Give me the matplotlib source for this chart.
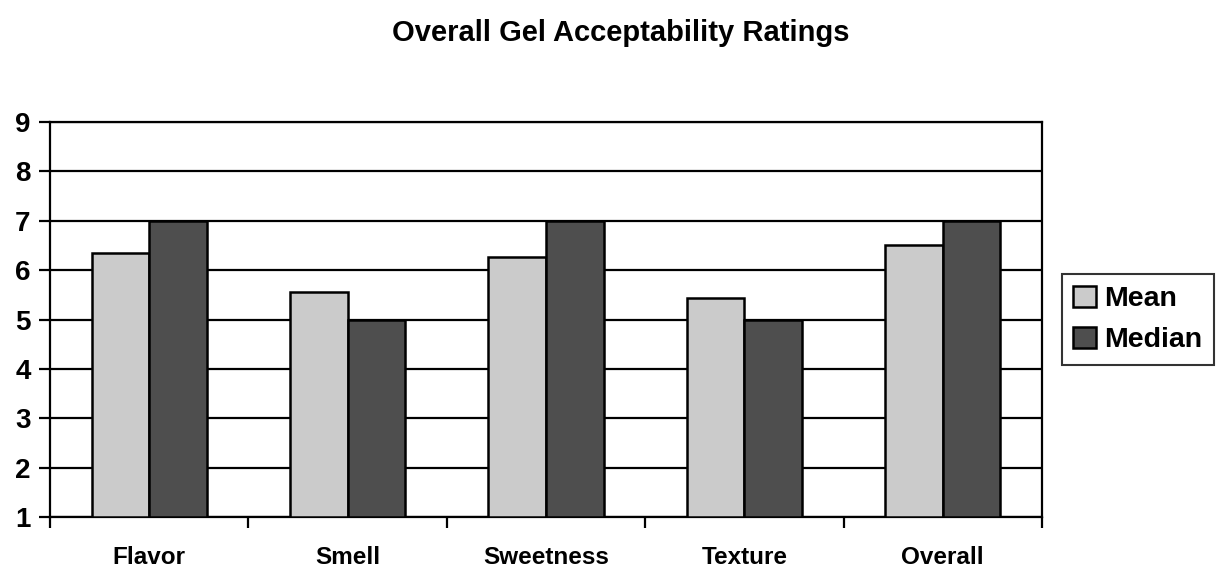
import matplotlib
matplotlib.use("Agg")
import matplotlib.pyplot as plt
import numpy as np

categories = ["Flavor", "Smell", "Sweetness", "Texture", "Overall"]
mean_vals = [6.35, 5.55, 6.26, 5.43, 6.51]
median_vals = [7, 5, 7, 5, 7]
series_names = ["Mean", "Median"]
yticks = [1, 2, 3, 4, 5, 6, 7, 8, 9]
title = "Overall Gel Acceptability Ratings"

plt.rcParams['font.family'] = ['Liberation Sans', 'DejaVu Sans']
plt.rcParams['font.weight'] = 'bold'

fig = plt.figure(figsize=(12.22, 5.76), dpi=100)
ax = fig.add_axes([0.0409, 0.1024, 0.8118, 0.6858])

x = np.arange(len(categories))
w = 0.29
b1 = ax.bar(x - w/2, np.array(mean_vals) - 1, w, bottom=1, color="#cbcbcb",
            edgecolor="black", linewidth=1.8, label=series_names[0], zorder=3)
b2 = ax.bar(x + w/2, np.array(median_vals) - 1, w, bottom=1, color="#4e4e4e",
            edgecolor="black", linewidth=1.8, label=series_names[1], zorder=3)

ax.set_xlim(-0.5, len(categories) - 0.5)
ax.set_ylim(1, 9)
ax.set_yticks(yticks)
ax.set_yticklabels([str(t) for t in yticks], fontsize=20, fontweight='bold')
ax.yaxis.grid(True, color='black', linewidth=1.6, zorder=0)
ax.set_axisbelow(True)

ax.set_xticks(np.arange(-0.5, len(categories), 1.0))
ax.set_xticklabels([])
ax.set_xticks(x, minor=True)
ax.set_xticklabels(categories, minor=True, fontsize=17.5, fontweight='bold')
ax.tick_params(axis='x', which='minor', length=0, pad=21)
ax.tick_params(axis='x', which='major', length=8, width=1.6, direction='out')
ax.tick_params(axis='y', which='major', length=8, width=1.6, direction='out', pad=6)

for s in ax.spines.values():
    s.set_linewidth(1.6)
    s.set_color('black')

fig.text(0.508, 0.943, title, ha='center', va='center', fontsize=21, fontweight='bold')

leg = ax.legend(handles=[b1, b2], loc='center left', bbox_to_anchor=(1.02, 0.50),
                frameon=True, fancybox=False, edgecolor='black', fontsize=20.5,
                handlelength=0.8, handleheight=0.8, handletextpad=0.3,
                borderpad=0.4, labelspacing=0.5, borderaxespad=0)
leg.get_frame().set_linewidth(1.5)
for t in leg.get_texts():
    t.set_fontweight('bold')

fig.savefig("out.png", dpi=100)
